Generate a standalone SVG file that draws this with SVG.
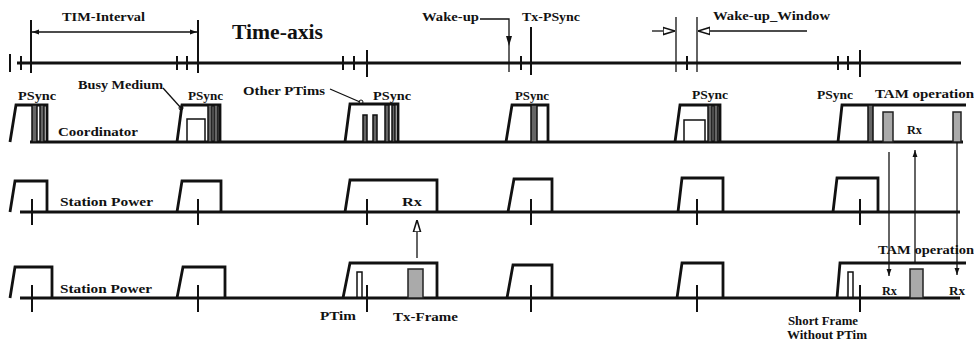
<svg xmlns="http://www.w3.org/2000/svg" width="974" height="341" viewBox="0 0 974 341">
<style>
.t{font-family:"Liberation Serif","Times New Roman",serif;font-weight:bold;font-size:13px;fill:#111}
.big{font-size:20px}
.ax{stroke:#111;stroke-width:3;fill:none}
.tk{stroke:#111;stroke-width:2;fill:none}
.pl{stroke:#111;stroke-width:2.8;fill:none;stroke-linejoin:miter}
.bar{stroke:#111;stroke-width:1.5;fill:#666}
.sh{stroke:#222;stroke-width:1.5;fill:#aaa}
.box{stroke:#111;stroke-width:1.5;fill:none}
.ln{stroke:#111;stroke-width:1.3;fill:none}
</style>
<defs>
<marker id="ah" viewBox="0 0 10 10" refX="10" refY="5" markerWidth="7" markerHeight="7" orient="auto-start-reverse" markerUnits="userSpaceOnUse">
<path d="M0,1.5 L10,5 L0,8.5 Z" fill="#111"/>
</marker>
<marker id="oh" viewBox="0 0 10 10" refX="10" refY="5" markerWidth="12" markerHeight="12" orient="auto" markerUnits="userSpaceOnUse">
<path d="M0,2 L10,5 L0,8 Z" fill="#fff" stroke="#111" stroke-width="1.3"/>
</marker>
</defs>

<g id="time-axis">
<line class="ax" x1="17" y1="63" x2="961" y2="63"/>
<path class="tk" d="M10,54V72 M21,56V70 M31,20V73 M177,56V70 M187,56V70 M198,20V73 M343,56V70 M354,56V70 M367,50V77 M521,56V70 M687,56V70 M838,56V70 M848,56V70 M860,50V77"/>
<text class="t big" x="232" y="39" textLength="91" lengthAdjust="spacingAndGlyphs">Time-axis</text>
</g>

<g id="tim-interval">
<line class="ln" x1="32" y1="32" x2="197" y2="32" marker-start="url(#ah)" marker-end="url(#ah)"/>
<text class="t" x="62" y="21" textLength="83" lengthAdjust="spacingAndGlyphs">TIM-Interval</text>
</g>

<g id="wake-up">
<text class="t" x="422" y="21" textLength="57" lengthAdjust="spacingAndGlyphs">Wake-up</text>
<polyline class="ln" points="480,19 509,19 509,72"/>
<path d="M506,36 L509,46 L512,36 Z" fill="#111"/>
</g>

<g id="tx-psync">
<text class="t" x="522" y="21" textLength="58" lengthAdjust="spacingAndGlyphs">Tx-PSync</text>
<line class="tk" x1="531" y1="27" x2="531" y2="75"/>
</g>

<g id="wake-up-window">
<path class="ln" d="M676,17V72 M697,17V72"/>
<line class="ln" x1="652" y1="31" x2="675" y2="31" marker-end="url(#oh)"/>
<line class="ln" x1="807" y1="31" x2="698" y2="31" marker-end="url(#oh)"/>
<text class="t" x="713" y="20" textLength="117" lengthAdjust="spacingAndGlyphs">Wake-up_Window</text>
</g>

<g id="coordinator">
<line class="ax" x1="30" y1="142" x2="963" y2="142"/>
<text class="t" x="58" y="136" textLength="80" lengthAdjust="spacingAndGlyphs">Coordinator</text>
<polyline class="pl" points="10,142 16,105 47,105 47,142"/>
<rect class="bar" x="32" y="105" width="5" height="37"/>
<rect class="bar" x="40" y="105" width="4" height="37"/>
<polyline class="pl" points="177,142 182,105 220,105 220,142"/>
<rect class="box" x="187" y="119" width="18" height="23"/>
<rect class="bar" x="208" y="105" width="4" height="37"/>
<rect class="bar" x="214" y="105" width="4" height="37"/>
<polyline class="pl" points="345,142 350,104 398,104 398,142"/>
<rect class="bar" x="363" y="115" width="4" height="27"/>
<rect class="bar" x="373" y="115" width="4" height="27"/>
<rect class="bar" x="385" y="105" width="4" height="37"/>
<rect class="bar" x="392" y="105" width="3" height="37"/>
<polyline class="pl" points="506,142 512,105 548,105 548,142"/>
<rect class="bar" x="531" y="105" width="6" height="37"/>
<polyline class="pl" points="675,142 680,105 720,105 720,142"/>
<rect class="box" x="684" y="120" width="21" height="22"/>
<rect class="bar" x="708" y="105" width="4" height="37"/>
<rect class="bar" x="714" y="105" width="4" height="37"/>
<polyline class="pl" points="838,142 842,105 966,105"/>
<rect class="bar" x="868" y="105" width="5" height="37"/>
<rect class="sh" x="883" y="112" width="10" height="30"/>
<rect class="sh" x="953" y="112" width="8" height="30"/>
<text class="t" x="907" y="134" textLength="15" lengthAdjust="spacingAndGlyphs">Rx</text>
<text class="t" x="18" y="100" textLength="38" lengthAdjust="spacingAndGlyphs">PSync</text>
<text class="t" x="188" y="100" textLength="35" lengthAdjust="spacingAndGlyphs">PSync</text>
<text class="t" x="373" y="100" textLength="38" lengthAdjust="spacingAndGlyphs">PSync</text>
<text class="t" x="515" y="100" textLength="34" lengthAdjust="spacingAndGlyphs">PSync</text>
<text class="t" x="692" y="99" textLength="36" lengthAdjust="spacingAndGlyphs">PSync</text>
<text class="t" x="817" y="99" textLength="36" lengthAdjust="spacingAndGlyphs">PSync</text>
<text class="t" x="875" y="98" textLength="99" lengthAdjust="spacingAndGlyphs">TAM operation</text>
</g>

<g id="busy-medium">
<text class="t" x="78" y="89" textLength="85" lengthAdjust="spacingAndGlyphs">Busy Medium</text>
<line class="ln" x1="163" y1="88" x2="181" y2="108"/>
<circle cx="181" cy="108" r="2" fill="none" stroke="#111" stroke-width="1"/>
</g>

<g id="other-ptims">
<text class="t" x="243" y="95" textLength="82" lengthAdjust="spacingAndGlyphs">Other PTims</text>
<line class="ln" x1="330" y1="89" x2="360" y2="102"/>
<circle cx="361" cy="102" r="2" fill="none" stroke="#111" stroke-width="1"/>
</g>

<g id="station-power-1">
<line class="ax" x1="20" y1="212" x2="960" y2="212"/>
<text class="t" x="60" y="206" textLength="93" lengthAdjust="spacingAndGlyphs">Station Power</text>
<polyline class="pl" points="10,212 15,181 47,181 47,212"/>
<polyline class="pl" points="177,212 182,181 221,181 221,212"/>
<polyline class="pl" points="345,212 350,180 437,180 437,212"/>
<polyline class="pl" points="508,212 514,179 552,179 552,212"/>
<polyline class="pl" points="678,212 682,178 723,178 723,212"/>
<polyline class="pl" points="833,212 837,178 878,178 878,212"/>
<path class="tk" d="M32,199V225 M198,199V225 M367,199V225 M531,199V225 M697,199V225 M860,199V225"/>
<text class="t" x="402" y="206" textLength="20" lengthAdjust="spacingAndGlyphs">Rx</text>
</g>

<g id="station-power-2">
<line class="ax" x1="20" y1="298" x2="960" y2="298"/>
<text class="t" x="60" y="293" textLength="92" lengthAdjust="spacingAndGlyphs">Station Power</text>
<polyline class="pl" points="10,298 15,267 52,267 52,298"/>
<polyline class="pl" points="177,298 183,267 225,267 225,298"/>
<polyline class="pl" points="343,298 350,263 437,263 437,298"/>
<rect class="box" x="357" y="272" width="5" height="26"/>
<rect class="sh" x="408" y="269" width="15" height="29"/>
<polyline class="pl" points="507,298 513,265 552,265 552,298"/>
<polyline class="pl" points="677,298 682,263 723,263 723,298"/>
<polyline class="pl" points="837,298 840,263 966,263"/>
<rect class="box" x="848" y="272" width="5" height="26"/>
<rect class="sh" x="910" y="269" width="13" height="29"/>
<path class="tk" d="M32,285V312 M198,285V312 M367,285V312 M531,285V312 M697,285V312 M860,285V312"/>
<text class="t" x="320" y="320" textLength="36" lengthAdjust="spacingAndGlyphs">PTim</text>
<text class="t" x="393" y="321" textLength="65" lengthAdjust="spacingAndGlyphs">Tx-Frame</text>
<text class="t" x="878" y="254" textLength="96" lengthAdjust="spacingAndGlyphs">TAM operation</text>
<text class="t" x="882" y="295" textLength="15" lengthAdjust="spacingAndGlyphs">Rx</text>
<text class="t" x="949" y="295" textLength="16" lengthAdjust="spacingAndGlyphs">Rx</text>
<text class="t" x="788" y="325" textLength="70" lengthAdjust="spacingAndGlyphs">Short Frame</text>
<text class="t" x="787" y="339" textLength="80" lengthAdjust="spacingAndGlyphs">Without PTim</text>
</g>

<g id="connectors">
<line class="ln" x1="417" y1="258" x2="417" y2="220" marker-end="url(#oh)"/>
<line class="ln" x1="889" y1="152" x2="889" y2="276" marker-end="url(#ah)"/>
<line class="ln" x1="915" y1="263" x2="915" y2="150" marker-end="url(#ah)"/>
<line class="ln" x1="957" y1="142" x2="957" y2="275" marker-end="url(#ah)"/>
</g>
</svg>
